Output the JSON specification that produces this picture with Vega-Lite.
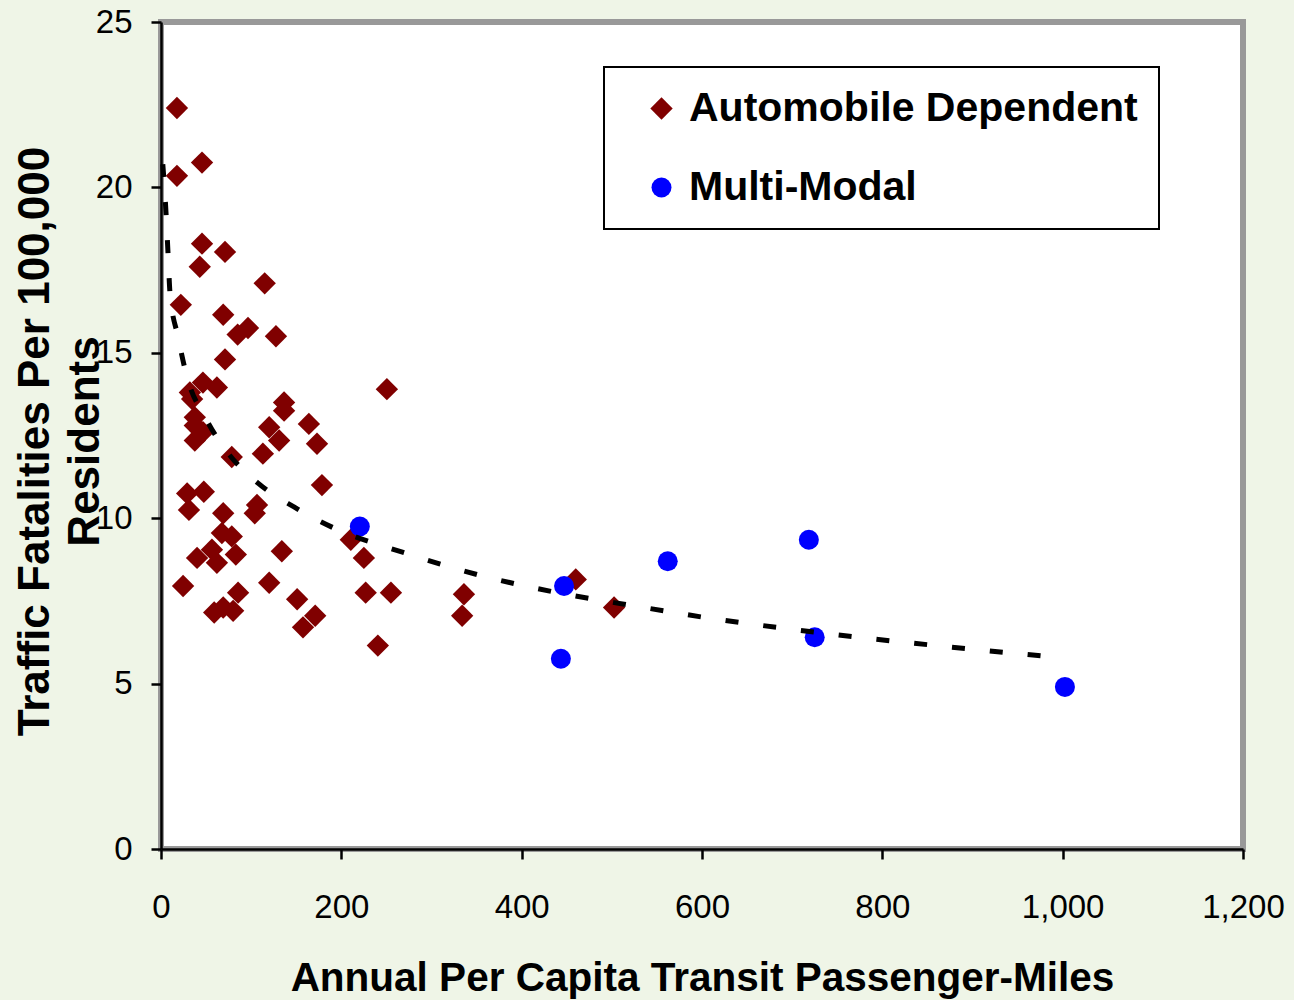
{
  "$schema": "https://vega.github.io/schema/vega-lite/v6.json",
  "width": 1082,
  "height": 827,
  "autosize": {"type": "none"},
  "padding": {"left": 161, "top": 22, "right": 51, "bottom": 151},
  "background": "#EFF5E7",
  "config": {
    "view": {"fill": "white", "stroke": "#999999", "strokeWidth": 6},
    "font": "Liberation Sans",
    "axis": {
      "domainColor": "black",
      "domainWidth": 2.5,
      "tickColor": "black",
      "tickWidth": 2.5,
      "tickSize": 10,
      "grid": false,
      "labelFont": "Liberation Sans",
      "labelFontSize": 33,
      "labelColor": "black",
      "titleColor": "black",
      "labelOverlap": false,
      "labelFlush": false
    },
    "legend": {
      "strokeColor": "black",
      "strokeWidth": 2,
      "fillColor": "white"
    }
  },
  "datasets": {
    "pts": [
      {"type": "Automobile Dependent", "miles": 17.7, "fatal": 22.4},
      {"type": "Automobile Dependent", "miles": 17.7, "fatal": 20.35},
      {"type": "Automobile Dependent", "miles": 45.5, "fatal": 20.75},
      {"type": "Automobile Dependent", "miles": 45.5, "fatal": 18.3},
      {"type": "Automobile Dependent", "miles": 43, "fatal": 17.6},
      {"type": "Automobile Dependent", "miles": 71, "fatal": 18.05},
      {"type": "Automobile Dependent", "miles": 115, "fatal": 17.1},
      {"type": "Automobile Dependent", "miles": 22, "fatal": 16.45},
      {"type": "Automobile Dependent", "miles": 69, "fatal": 16.15},
      {"type": "Automobile Dependent", "miles": 85, "fatal": 15.55},
      {"type": "Automobile Dependent", "miles": 96.5, "fatal": 15.75},
      {"type": "Automobile Dependent", "miles": 127.5, "fatal": 15.5},
      {"type": "Automobile Dependent", "miles": 71, "fatal": 14.8},
      {"type": "Automobile Dependent", "miles": 46.5, "fatal": 14.1},
      {"type": "Automobile Dependent", "miles": 62, "fatal": 13.95},
      {"type": "Automobile Dependent", "miles": 32, "fatal": 13.8},
      {"type": "Automobile Dependent", "miles": 34.5, "fatal": 13.6},
      {"type": "Automobile Dependent", "miles": 37.5, "fatal": 13.05},
      {"type": "Automobile Dependent", "miles": 37.5, "fatal": 12.8},
      {"type": "Automobile Dependent", "miles": 46.5, "fatal": 12.6},
      {"type": "Automobile Dependent", "miles": 37.5, "fatal": 12.35},
      {"type": "Automobile Dependent", "miles": 136.5, "fatal": 13.5},
      {"type": "Automobile Dependent", "miles": 136.5, "fatal": 13.25},
      {"type": "Automobile Dependent", "miles": 120, "fatal": 12.75},
      {"type": "Automobile Dependent", "miles": 131, "fatal": 12.35},
      {"type": "Automobile Dependent", "miles": 164, "fatal": 12.85},
      {"type": "Automobile Dependent", "miles": 173, "fatal": 12.25},
      {"type": "Automobile Dependent", "miles": 113, "fatal": 11.95},
      {"type": "Automobile Dependent", "miles": 78.5, "fatal": 11.85},
      {"type": "Automobile Dependent", "miles": 250.5, "fatal": 13.9},
      {"type": "Automobile Dependent", "miles": 178.5, "fatal": 11.0},
      {"type": "Automobile Dependent", "miles": 29, "fatal": 10.75},
      {"type": "Automobile Dependent", "miles": 47.5, "fatal": 10.8},
      {"type": "Automobile Dependent", "miles": 31, "fatal": 10.25},
      {"type": "Automobile Dependent", "miles": 106.5, "fatal": 10.4},
      {"type": "Automobile Dependent", "miles": 104, "fatal": 10.15},
      {"type": "Automobile Dependent", "miles": 69, "fatal": 10.15},
      {"type": "Automobile Dependent", "miles": 67.5, "fatal": 9.55},
      {"type": "Automobile Dependent", "miles": 78.5, "fatal": 9.45},
      {"type": "Automobile Dependent", "miles": 40, "fatal": 8.8},
      {"type": "Automobile Dependent", "miles": 56.5, "fatal": 9.05},
      {"type": "Automobile Dependent", "miles": 62, "fatal": 8.65},
      {"type": "Automobile Dependent", "miles": 83, "fatal": 8.9},
      {"type": "Automobile Dependent", "miles": 134, "fatal": 9.0},
      {"type": "Automobile Dependent", "miles": 210.5, "fatal": 9.35},
      {"type": "Automobile Dependent", "miles": 225, "fatal": 8.8},
      {"type": "Automobile Dependent", "miles": 24.5, "fatal": 7.95},
      {"type": "Automobile Dependent", "miles": 120, "fatal": 8.05},
      {"type": "Automobile Dependent", "miles": 85.5, "fatal": 7.75},
      {"type": "Automobile Dependent", "miles": 59, "fatal": 7.15},
      {"type": "Automobile Dependent", "miles": 69, "fatal": 7.3},
      {"type": "Automobile Dependent", "miles": 80, "fatal": 7.2},
      {"type": "Automobile Dependent", "miles": 151, "fatal": 7.55},
      {"type": "Automobile Dependent", "miles": 171, "fatal": 7.05},
      {"type": "Automobile Dependent", "miles": 157.5, "fatal": 6.7},
      {"type": "Automobile Dependent", "miles": 227, "fatal": 7.75},
      {"type": "Automobile Dependent", "miles": 255, "fatal": 7.75},
      {"type": "Automobile Dependent", "miles": 240.5, "fatal": 6.15},
      {"type": "Automobile Dependent", "miles": 336, "fatal": 7.7},
      {"type": "Automobile Dependent", "miles": 334, "fatal": 7.05},
      {"type": "Automobile Dependent", "miles": 460, "fatal": 8.15},
      {"type": "Automobile Dependent", "miles": 502.5, "fatal": 7.3},
      {"type": "Multi-Modal", "miles": 220.5, "fatal": 9.75},
      {"type": "Multi-Modal", "miles": 447, "fatal": 7.95},
      {"type": "Multi-Modal", "miles": 443.5, "fatal": 5.75},
      {"type": "Multi-Modal", "miles": 562, "fatal": 8.7},
      {"type": "Multi-Modal", "miles": 718.5, "fatal": 9.35},
      {"type": "Multi-Modal", "miles": 725, "fatal": 6.4},
      {"type": "Multi-Modal", "miles": 1002.5, "fatal": 4.9}
    ],
    "trend": [
      {"miles": 2.0, "fatal": 20.7},
      {"miles": 5.5, "fatal": 19.26},
      {"miles": 7.8, "fatal": 18.0},
      {"miles": 10, "fatal": 16.8},
      {"miles": 18.9, "fatal": 15.48},
      {"miles": 28.8, "fatal": 14.27},
      {"miles": 48.8, "fatal": 13.06},
      {"miles": 74.3, "fatal": 11.97},
      {"miles": 107.6, "fatal": 11.06},
      {"miles": 147.5, "fatal": 10.34},
      {"miles": 189.6, "fatal": 9.73},
      {"miles": 273.9, "fatal": 8.92},
      {"miles": 357.1, "fatal": 8.25},
      {"miles": 441.4, "fatal": 7.74},
      {"miles": 524.6, "fatal": 7.35},
      {"miles": 607.7, "fatal": 6.98},
      {"miles": 700, "fatal": 6.64},
      {"miles": 814, "fatal": 6.28},
      {"miles": 900, "fatal": 6.04},
      {"miles": 995, "fatal": 5.79}
    ]
  },
  "layer": [
    {
      "data": {"name": "pts"},
      "mark": {"type": "point", "filled": true, "opacity": 1, "strokeWidth": 0},
      "encoding": {
        "x": {
          "field": "miles", "type": "quantitative",
          "scale": {"domain": [0, 1200], "nice": false, "zero": false},
          "axis": {
            "values": [0, 200, 400, 600, 800, 1000, 1200],
            "format": ",d",
            "labelBaseline": "alphabetic",
            "labelPadding": 58,
            "title": "Annual Per Capita Transit Passenger-Miles",
            "titleFont": "Liberation Sans",
            "titleFontSize": 40.5,
            "titleFontWeight": "bold",
            "titleBaseline": "alphabetic",
            "titleY": 141
          }
        },
        "y": {
          "field": "fatal", "type": "quantitative",
          "scale": {"domain": [0, 25], "nice": false, "zero": false},
          "axis": {
            "values": [0, 5, 10, 15, 20, 25],
            "labelPadding": 19,
            "title": ["Traffic Fatalities Per 100,000", "Residents"],
            "titleFont": "Liberation Sans",
            "titleFontSize": 44,
            "titleFontWeight": "bold",
            "titleLineHeight": 50,
            "titleAngle": -90,
            "titleAlign": "center",
            "titleBaseline": "middle",
            "titleX": -126,
            "titleY": 419
          }
        },
        "color": {
          "field": "type", "type": "nominal",
          "scale": {"domain": ["Automobile Dependent", "Multi-Modal"], "range": ["#800000", "#0000FF"]},
          "legend": {
            "title": null,
            "orient": "none",
            "legendX": 443,
            "legendY": 45,
            "padding": 21,
            "symbolOffset": 16,
            "rowPadding": 37,
            "labelOffset": 7,
            "labelFont": "Liberation Sans",
            "labelFontSize": 41,
            "labelFontWeight": "bold",
            "labelColor": "black",
            "labelLimit": 800,
            "strokeColor": "black",
            "fillColor": "white",
            "symbolStrokeWidth": 0
          }
        },
        "shape": {
          "field": "type", "type": "nominal",
          "scale": {"domain": ["Automobile Dependent", "Multi-Modal"], "range": ["diamond", "circle"]}
        },
        "size": {
          "field": "type", "type": "nominal",
          "scale": {"domain": ["Automobile Dependent", "Multi-Modal"], "range": [500, 400]}
        }
      }
    },
    {
      "data": {"name": "trend"},
      "mark": {"type": "line", "color": "black", "strokeWidth": 5, "strokeDash": [13, 25], "strokeCap": "butt", "interpolate": "monotone"},
      "encoding": {
        "x": {"field": "miles", "type": "quantitative"},
        "y": {"field": "fatal", "type": "quantitative"}
      }
    }
  ]
}
